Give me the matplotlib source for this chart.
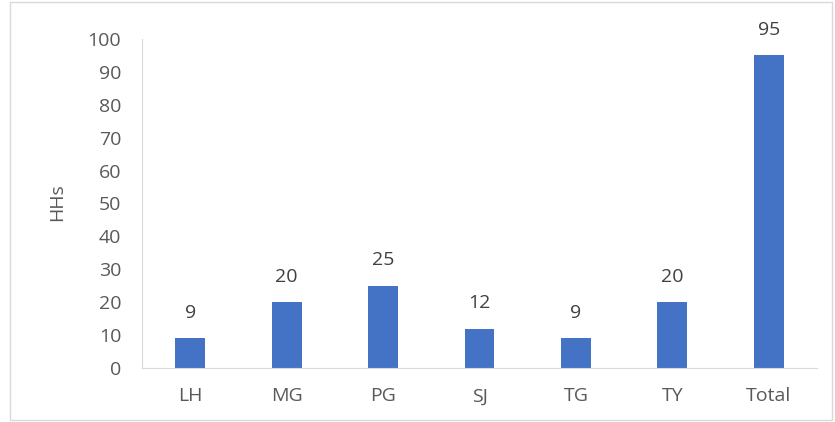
import matplotlib
matplotlib.use("Agg")
import matplotlib.pyplot as plt
from matplotlib.patches import Rectangle

categories = ["LH", "MG", "PG", "SJ", "TG", "TY", "Total"]
values = [9, 20, 25, 12, 9, 20, 95]
yticks = [0, 10, 20, 30, 40, 50, 60, 70, 80, 90, 100]

plt.rcParams['font.family'] = ['Open Sans', 'DejaVu Sans']

W, H = 835, 422
TXT = "#595959"
fig = plt.figure(figsize=(W/100, H/100), dpi=100)
ax = fig.add_axes([142/W, 1-368/H, (817-142)/W, (368-39)/H])

x = list(range(len(categories)))
ax.bar(x, values, width=0.31, color="#4472C4", zorder=2)
for xi, v in zip(x, values):
    ax.annotate(str(v), (xi, v), xytext=(0, 12), textcoords="offset points",
                ha="center", va="bottom", fontsize=14, color="#404040")

ax.set_xlim(-0.5, len(categories) - 0.5)
ax.set_ylim(0, 100)
ax.set_yticks(yticks)
ax.set_yticklabels([str(t) for t in yticks])
ax.set_xticks(x)
ax.set_xticklabels(categories)
ax.tick_params(axis="both", length=0, labelsize=14, labelcolor=TXT)
ax.tick_params(axis="x", pad=14)
ax.tick_params(axis="y", pad=15)
for s in ["top", "right"]:
    ax.spines[s].set_visible(False)
ax.spines["bottom"].set_color("#D9D9D9")
ax.spines["left"].set_color("#D9D9D9")
fig.text(57.5/W, 1-202/H, "HHs", rotation=90, ha="center", va="center",
         fontsize=14, color=TXT)

fig.patches.append(Rectangle((10/W, 2/H), (832-10)/W, (420-2)/H, transform=fig.transFigure,
                             fill=False, edgecolor="#D9D9D9", linewidth=1))

fig.savefig("out.png", dpi=100)
